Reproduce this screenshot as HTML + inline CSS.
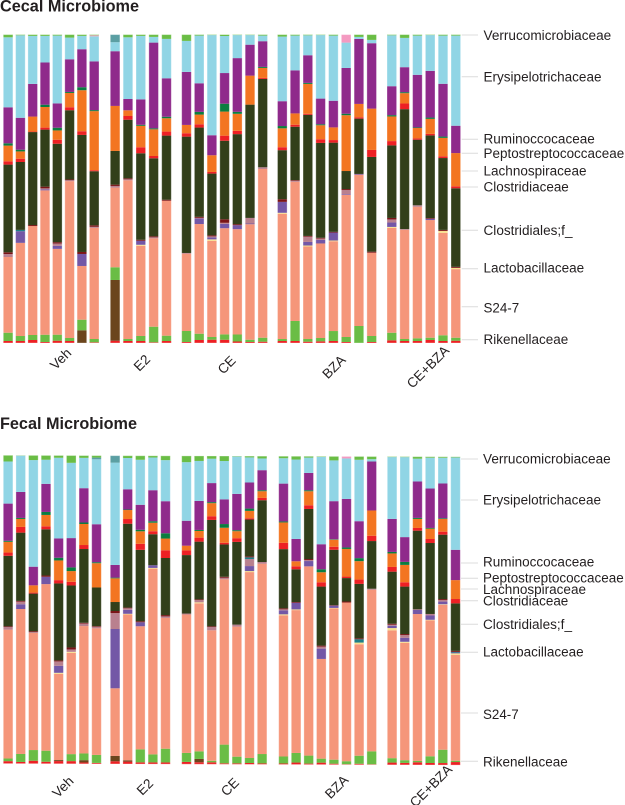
<!DOCTYPE html>
<html lang="en">
<head>
<meta charset="utf-8">
<title>Cecal and Fecal Microbiome</title>
<style>
html,body{margin:0;padding:0;background:#fff;width:625px;height:805px;overflow:hidden}
svg{display:block;filter:blur(0.3px)}
text{font-family:"Liberation Sans",sans-serif;fill:#231f20}
.title{font-size:16.2px;font-weight:bold}
.fam{font-size:13.5px}
.grp{font-size:13.6px;text-anchor:middle;dominant-baseline:central}
.tick{stroke:#dcdcdc;stroke-width:1}
</style>
</head>
<body>
<svg id="chart" width="625" height="805" viewBox="0 0 625 805" xmlns="http://www.w3.org/2000/svg">
  <text class="title" x="0" y="11.3" textLength="139" lengthAdjust="spacingAndGlyphs">Cecal Microbiome</text>
  <text class="title" x="0" y="428.8" textLength="137" lengthAdjust="spacingAndGlyphs">Fecal Microbiome</text>
  <g id="cecal-bars"></g>
  <g id="fecal-bars"></g>

  <g>
    <line class="tick" x1="461.7" x2="478" y1="35" y2="35"/>
    <line class="tick" x1="461.7" x2="478" y1="76.7" y2="76.7"/>
    <line class="tick" x1="461.7" x2="478" y1="139.3" y2="139.3"/>
    <line class="tick" x1="461.7" x2="478" y1="153.3" y2="153.3"/>
    <line class="tick" x1="461.7" x2="478" y1="171" y2="171"/>
    <line class="tick" x1="461.7" x2="478" y1="187" y2="187"/>
    <line class="tick" x1="461.7" x2="478" y1="230.3" y2="230.3"/>
    <line class="tick" x1="461.7" x2="478" y1="268.7" y2="268.7"/>
    <line class="tick" x1="461.7" x2="478" y1="306.7" y2="306.7"/>
    <line class="tick" x1="461.7" x2="478" y1="339.7" y2="339.7"/>
  </g>
  <g>
    <text class="fam" x="483.5" y="40" textLength="127.7" lengthAdjust="spacingAndGlyphs">Verrucomicrobiaceae</text>
    <text class="fam" x="483.5" y="81.3" textLength="118" lengthAdjust="spacingAndGlyphs">Erysipelotrichaceae</text>
    <text class="fam" x="483.5" y="143.3" textLength="111.3" lengthAdjust="spacingAndGlyphs">Ruminoccocaceae</text>
    <text class="fam" x="483.5" y="157.9" textLength="140.7" lengthAdjust="spacingAndGlyphs">Peptostreptococcaceae</text>
    <text class="fam" x="483.5" y="175.6" textLength="103" lengthAdjust="spacingAndGlyphs">Lachnospiraceae</text>
    <text class="fam" x="483.5" y="191.3" textLength="85.3" lengthAdjust="spacingAndGlyphs">Clostridiaceae</text>
    <text class="fam" x="483.5" y="234.9" textLength="89" lengthAdjust="spacingAndGlyphs">Clostridiales;f_</text>
    <text class="fam" x="483.5" y="272.3" textLength="100.7" lengthAdjust="spacingAndGlyphs">Lactobacillaceae</text>
    <text class="fam" x="483.5" y="312.3" textLength="35.7" lengthAdjust="spacingAndGlyphs">S24-7</text>
    <text class="fam" x="483.5" y="343.9" textLength="84.7" lengthAdjust="spacingAndGlyphs">Rikenellaceae</text>
  </g>

  <g>
    <line class="tick" x1="461" x2="478" y1="459" y2="459"/>
    <line class="tick" x1="461" x2="478" y1="500" y2="500"/>
    <line class="tick" x1="461" x2="478" y1="563" y2="563"/>
    <line class="tick" x1="461" x2="478" y1="578.3" y2="578.3"/>
    <line class="tick" x1="461" x2="478" y1="589" y2="589"/>
    <line class="tick" x1="461" x2="478" y1="600.7" y2="600.7"/>
    <line class="tick" x1="461" x2="478" y1="624.3" y2="624.3"/>
    <line class="tick" x1="461" x2="478" y1="652.3" y2="652.3"/>
    <line class="tick" x1="461" x2="478" y1="713" y2="713"/>
    <line class="tick" x1="461" x2="478" y1="761.3" y2="761.3"/>
  </g>
  <g>
    <text class="fam" x="483" y="463.3" textLength="127.7" lengthAdjust="spacingAndGlyphs">Verrucomicrobiaceae</text>
    <text class="fam" x="483" y="504.6" textLength="118" lengthAdjust="spacingAndGlyphs">Erysipelotrichaceae</text>
    <text class="fam" x="483" y="566.6" textLength="111.3" lengthAdjust="spacingAndGlyphs">Ruminoccocaceae</text>
    <text class="fam" x="483" y="582.3" textLength="140.7" lengthAdjust="spacingAndGlyphs">Peptostreptococcaceae</text>
    <text class="fam" x="483" y="593.9" textLength="103" lengthAdjust="spacingAndGlyphs">Lachnospiraceae</text>
    <text class="fam" x="483" y="605.3" textLength="85.3" lengthAdjust="spacingAndGlyphs">Clostridiaceae</text>
    <text class="fam" x="483" y="628.9" textLength="89" lengthAdjust="spacingAndGlyphs">Clostridiales;f_</text>
    <text class="fam" x="483" y="656.3" textLength="100.7" lengthAdjust="spacingAndGlyphs">Lactobacillaceae</text>
    <text class="fam" x="483" y="718.9" textLength="35.7" lengthAdjust="spacingAndGlyphs">S24-7</text>
    <text class="fam" x="483" y="766.3" textLength="84.7" lengthAdjust="spacingAndGlyphs">Rikenellaceae</text>
  </g>

  <g>
    <text class="grp" transform="translate(60.7 359) rotate(-45)">Veh</text>
    <text class="grp" transform="translate(142 363) rotate(-45)">E2</text>
    <text class="grp" transform="translate(226.7 365) rotate(-45)">CE</text>
    <text class="grp" transform="translate(334 367) rotate(-45)">BZA</text>
    <text class="grp" transform="translate(428 367) rotate(-45)">CE+BZA</text>
  </g>
  <g>
    <text class="grp" transform="translate(63 787) rotate(-45)">Veh</text>
    <text class="grp" transform="translate(145 787) rotate(-45)">E2</text>
    <text class="grp" transform="translate(230 787) rotate(-45)">CE</text>
    <text class="grp" transform="translate(336.7 787) rotate(-45)">BZA</text>
    <text class="grp" transform="translate(431 786) rotate(-45)">CE+BZA</text>
  </g>
</svg>

<script>
// Categories
const groupNames = ["veh", "e2", "ce", "bza", "ce-bza"];
const groupSizes = [8, 5, 7, 8, 6];
// Stack order, bottom to top
const layerNames = ["base-red", "brown", "rikenellaceae", "s24-7", "yellow", "violet", "mauve", "teal", "lactobacillaceae", "clostridiales", "clostridiaceae", "lachnospiraceae", "dark-green", "erysipelotrichaceae-purple", "erysipelotrichaceae-blue", "slate", "pink", "verrucomicrobiaceae"];
const layerColors = ["#ed2024", "#6b451d", "#6abd45", "#f5967a", "#f8e08e", "#7357a6", "#b9808e", "#1d7f88", "#7a1416", "#323f1a", "#ed2024", "#f37521", "#0a7d40", "#8f2a8b", "#90d5e5", "#5b9fa3", "#f49ac1", "#6abd45"];

// Cecal relative abundance (per sample, normalised when stacked)
const cecalBaseRed = [2,2,3,1,2.3,2,0,.7, 2.3,2,2,.7,2, 1,3,3.3,3,1.5,1,1.3, 2,2,1.3,1.7,2,1,0,1, 2.7,2,2,3,2,2.3];
const cecalBrown = [0,0,0,0,0,0,12.7,0, 60.7,0,0,0,0, 0,0,0,0,0,0,0, 0,0,0,0,0,0,0,0, 0,0,0,0,0,0];
const cecalGreen = [8.3,5,5,7.3,6,3,10.6,3.3, 12.7,2,5,15.6,5.3, 11,6.3,2.7,5,7,2.3,4, 2,20,2.7,3.3,10,5,17,6, 7.6,2,2.7,2.3,5.7,3];
const cecalSalmon = [75.7,93.3,109,145,85.7,157,53.7,111, 79.6,158.7,90,88.4,134.7, 77.3,109.7,96,98.3,105.3,115.6,168.7, 126,139,92.7,94.7,90,142,151.3,83.3, 105,109.3,131.8,117.4,102,68.7];
const cecalYellow = [0,0,0,0,0,0,0,0, 0,0,1,0,0, 0,0,1.5,0,0,0,0, 1,0,1,0,.7,0,0,0, 1,0,0,0,2,1.3];
const cecalViolet = [0,11.7,0,1,3,0,12,0, 0,0,4,0,0, 0,5.5,2,4,4,.7,0, 11,0,3.6,3.5,8,.7,.7,0, 4.4,0,0,1.3,0,0];
const cecalMauve = [3,0,0,1,2.4,1,0,1, 1.7,1,0,1,0, .7,.7,1,1,0,5.6,1.7, 0,1,5.3,1.5,0,4,0,0, 3.1,.7,1.5,0,0,0];
const cecalTeal = [0,1.3,0,0,0,0,0,0, 0,0,0,0,0, 0,0,0,0,0,0,0, 0,0,0,0,0,0,0,0, 0,0,0,0,0,0];
const cecalMaroon = [1.7,0,1,1.7,1.3,.7,2,1.5, 1.3,1,1,1,1, 0,1,1,3.3,1,0,0, 2.7,.7,.7,.7,.7,1,0,1, 1.5,0,0,.7,1,1];
const cecalDark = [87.7,68,93,57.3,98.3,69.3,117,54, 33.7,58.6,86.3,78,64, 116.3,89.3,61.7,72.7,90,113.4,88.3, 49.3,53.3,121.4,95,89.4,18,55.3,94.7, 72.7,120,65.7,82.5,71.6,78.7];
const cecalRed = [3.3,3.3,.5,2,4,3,3.7,1, 0,3.7,6,2.3,4, 3.4,3.3,1.6,4.7,3.3,0,1, 3,2,1,3.7,2.6,0,1.4,7, 4.3,5.7,1.3,1.5,1.7,2];
const cecalOrange = [15.7,7.3,15,20.7,9.3,14.3,41,59, 45,5.7,21.4,26.7,13.3, 8.3,9.7,16.7,22.3,17,29,10, 19,11.3,30,14,12.7,55.7,13.3,41.3, 24.7,10.3,10.4,15,18.4,33.3];
const cecalDarkGreen = [2.3,1.7,0,2.3,2.7,1,3,1, 0,0,1,1,1.5, 0,2.7,0,7.3,2,0,1, 2.3,0,1,1,0,1.5,0,0, 1.3,1,.6,1.3,1.3,0];
const cecalPurple = [36,32,32.7,42.4,24.3,32.7,38,48.7, 54.7,11.3,25.4,85.7,38.4, 53,28.6,20,28.4,53.7,31,25.7, 25,43,27.7,25.7,26.7,45.7,65,65.4, 29,25,52.7,46.6,52.6,27.4];
const cecalBlue = [70,82.6,48,26.7,67.7,21.7,13.3,25, 9,61.7,63.3,5.7,39.3, 31,47.7,100,34.3,23,9.6,5.6, 65,34.7,20,63.6,65.3,25.3,2,3.3, 51,29.3,39.3,35.7,48,90.3];
const cecalSlate = [0,0,0,0,0,0,0,0, 7.6,0,0,0,0, 0,0,0,0,0,0,0, 0,0,0,0,0,0,0,0, 0,0,0,0,0,0];
const cecalPink = [0,0,0,0,0,0,0,1, 0,0,0,0,0, 0,0,0,0,0,0,0, 0,0,0,0,0,8,0,0, 0,0,0,0,0,0];
const cecalTop = [2.7,.7,1.3,1.3,1,3,1.3,.7, 0,2.7,1.3,2.3,4.3, 6.3,1,.5,1.3,.5,.5,1, 2,1,.7,.5,1,0,2.3,5.3, .7,3.3,1,.5,1,1];

// Fecal relative abundance
const fecalBaseRed = [2.5,1.7,3,2,2.7,2.7,1.4,1, 2.7,2.4,1.7,1.7,1.7, 2.3,2,2,1,1,1.4,1, 1,2,1,2,1,.5,1,.5, 2.3,2,2.7,2,2,3];
const fecalBrown = [0,0,0,0,1,0,2.3,0, 5.3,1.3,0,0,0, 0,3.3,0,0,0,0,0, 0,0,0,0,0,0,0,0, 0,0,0,0,0,0];
const fecalGreen = [2.7,8,10.7,11,0,7,6.7,8, 0,0,13,8,13.7, 9,7.6,1.5,18.7,6.7,5,9.4, 7,9.6,8,4,4,3,8,13, 4.4,2.7,1.3,6.7,13.3,1.3];
const fecalSalmon = [131.6,145,117.6,166,86.3,101.3,127.3,126.7, 67.7,146,123,185.7,130.6, 138.7,148,130,165.3,130,185.3,190, 140.7,142.7,189,99.6,151,158,110.7,161.7, 127.6,117,146.3,135.5,144.7,104.7];
const fecalYellow = [0,0,0,0,1,1,0,0, 0,.7,0,.7,0, 0,1,0,0,0,1,0, 1,.7,0,0,.5,0,1.7,0, 2.3,1,0,.5,.5,1.5];
const fecalViolet = [0,4.7,0,7.3,7,0,0,0, 59.3,4,4,2.7,0, 0,0,0,0,0,5,0, 4,6.7,5.3,10.3,2.3,0,0,0, 2.3,4,4,4.3,2.7,.8];
const fecalMauve = [2.7,2.7,.7,0,4.4,2.4,2.6,1.5, 16,1.5,0,0,1.5, 1,2.3,3.3,1.5,2,7,1.7, 1,0,1,2,0,0,0,1, 1,2.7,.7,1.5,1.5,0];
const fecalTeal = [0,0,0,0,0,0,0,0, 0,0,0,0,0, 0,0,0,0,0,1.7,0, 0,0,0,0,0,0,3.3,0, 0,0,0,0,0,.7];
const fecalMaroon = [.7,.7,1,1.3,1,2,.7,.7, 2,.7,1,0,1.3, 0,.7,.7,1,0,1,0, 1,.7,1,1,.5,1,1,0, 1,1,0,0,1,1];
const fecalDark = [72,68.3,37.7,46,77,62,73.7,38.7, 9,84,71.4,31,57, 58.6,57.7,106,32.3,82.7,36.7,61.7, 59,32.7,50,59,55.3,23.3,54,47.7, 52,47.3,78.3,70.7,64.3,47];
const fecalRed = [3.3,5.7,1,3,3.3,3.7,4,0, 0,4.7,6,3,7.7, 4.7,4,3.7,1.7,3.7,1.3,2.3, 6.3,3,3.7,4.3,3,1.5,4.3,5.3, 4.7,4.3,2.7,4,3,4.3];
const fecalOrange = [11,8,7.3,11.3,19.7,10.7,21,24.3, 23.7,9,12.5,8.5,11.7, 4.7,6.7,13,15,7,7.3,6.7, 20.3,5,14,10,7,27.5,18.3,25.3, 13.5,17.3,9,10.3,12.7,18.7];
const fecalDarkGreen = [1,1,0,3,2.7,3.7,1.5,1, .7,.5,1.5,1.5,5.3, 0,1,1,3.7,1,2.3,1, 1,0,1,3,.5,1.5,3,0, 1.5,3,1,.7,.7,0];
const fecalPurple = [38,26,18.7,28,19.3,29.3,34.3,38, 12.7,20.3,25,31,32, 25,29,19,24.7,36.3,26,20, 37.7,22.3,17.3,25,38,48.3,36.7,49, 33,24.7,36.3,39.3,34.7,30];
const fecalBlue = [43,36.3,107,24,80.7,75.3,30.3,65, 102.3,31.3,45,32.7,41, 58.7,40,24.3,38.3,37.3,25,11.7, 25.3,79.3,15.3,87.3,40.7,40.3,61,2.3, 61.7,79.7,22.7,30.7,25.7,91.3];
const fecalSlate = [0,0,0,0,0,0,0,1.7, 7,0,0,0,0, 0,0,0,0,0,0,0, 0,0,0,0,0,0,0,0, 0,0,0,0,0,0];
const fecalPink = [0,0,0,0,0,0,0,0, 0,0,0,0,0, 0,0,0,0,0,0,0, 0,0,0,0,0,2,0,0, 0,0,0,0,0,0];
const fecalTop = [6.3,.3,4.7,4.3,2.3,7.3,2.3,2, 0,2.3,4,1.7,4.3, 6.3,5,2.7,5,.5,1.3,2.3, 2,3.3,1.3,.5,4,0,3.3,2.7, .5,.5,2,1,1,.7];

const cecalLayers = [cecalBaseRed, cecalBrown, cecalGreen, cecalSalmon, cecalYellow, cecalViolet, cecalMauve, cecalTeal, cecalMaroon, cecalDark, cecalRed, cecalOrange, cecalDarkGreen, cecalPurple, cecalBlue, cecalSlate, cecalPink, cecalTop];
const fecalLayers = [fecalBaseRed, fecalBrown, fecalGreen, fecalSalmon, fecalYellow, fecalViolet, fecalMauve, fecalTeal, fecalMaroon, fecalDark, fecalRed, fecalOrange, fecalDarkGreen, fecalPurple, fecalBlue, fecalSlate, fecalPink, fecalTop];

const SVG_NS = "http://www.w3.org/2000/svg";
const BAR_WIDTH = 9.6;

function drawPanel(host, prefix, layers, frame) {
  let sample = 0;
  groupNames.forEach(function (groupName, g) {
    for (let k = 0; k < groupSizes[g]; k++, sample++) {
      const x = frame.starts[g] + k * frame.pitches[g];
      const tiltY = x * frame.tilt;
      const total = layers.reduce(function (sum, layer) { return sum + layer[sample]; }, 0);
      const yScale = function (v) { return frame.bottom + tiltY - (v / total) * (frame.bottom - frame.top); };
      let cum = 0;
      layers.forEach(function (layer, l) {
        const v = layer[sample];
        if (v <= 0) return;
        const r = document.createElementNS(SVG_NS, "rect");
        
        
        r.setAttribute("x", x);
        r.setAttribute("width", BAR_WIDTH);
        r.setAttribute("y", yScale(cum + v));
        r.setAttribute("height", yScale(cum) - yScale(cum + v));
        r.setAttribute("fill", layerColors[l]);
        host.appendChild(r);
        cum += v;
      });
      const edge = document.createElementNS(SVG_NS, "rect");
      
      
      edge.setAttribute("x", x);
      edge.setAttribute("width", BAR_WIDTH);
      edge.setAttribute("y", frame.top + tiltY);
      edge.setAttribute("height", frame.bottom - frame.top);
      edge.setAttribute("fill", "none");
      edge.setAttribute("stroke", "#fff");
      edge.setAttribute("stroke-opacity", "0.35");
      edge.setAttribute("stroke-width", "0.9");
      host.appendChild(edge);
    }
  });
}

drawPanel(document.getElementById("cecal-bars"), "cecal", cecalLayers, {
  top: 34.6, bottom: 343, tilt: 0,
  starts: [3.3, 110.3, 181.7, 277.5, 387],
  pitches: [12.3, 12.85, 12.7, 12.77, 12.8]
});
drawPanel(document.getElementById("fecal-bars"), "fecal", fecalLayers, {
  top: 455.3, bottom: 763.6, tilt: 0.0033,
  starts: [3.3, 110.3, 181.7, 278.7, 387.3],
  pitches: [12.63, 12.6, 12.6, 12.6, 12.68]
});
</script>
</body>
</html>
